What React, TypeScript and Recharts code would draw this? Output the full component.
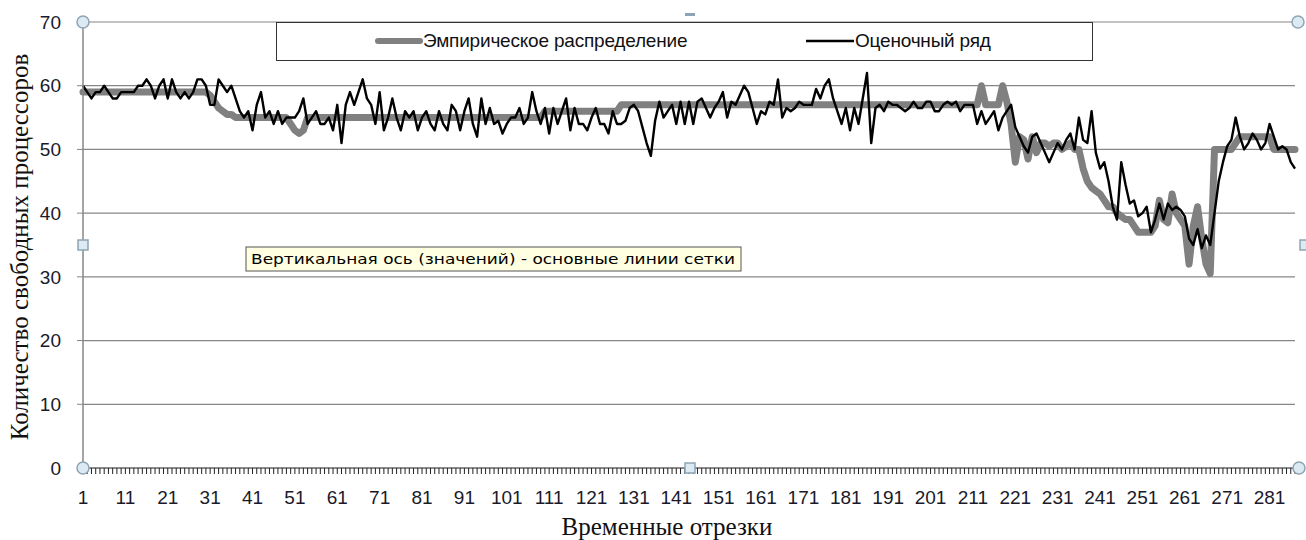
import React from 'react';
import { LineChart, Line, XAxis, YAxis, CartesianGrid } from 'recharts';

const W = 1306;
const H = 540;
const PLOT_LEFT = 83;
const PLOT_TOP = 22;
const PLOT_RIGHT = 1295;
const PLOT_BOTTOM = 468;

const SERIES_EMP = 'Эмпирическое распределение';
const SERIES_EST = 'Оценочный ряд';
const X_TITLE = 'Временные отрезки';
const Y_TITLE = 'Количество свободных процессоров';
const HINT_TEXT = 'Вертикальная ось (значений)  - основные линии сетки';

const COLOR_EMP = '#808080';
const COLOR_EST = '#000000';

const yTicks = [0, 10, 20, 30, 40, 50, 60, 70];
const xTickLabels = ['1', '11', '21', '31', '41', '51', '61', '71', '81', '91', '101', '111', '121', '131', '141', '151', '161', '171', '181', '191', '201', '211', '221', '231', '241', '251', '261', '271', '281'];

// Эмпирическое распределение (gray thick line), periods 1..287
const empirical = [
  59, 59, 59, 59, 59, 59, 59, 59, 59, 59,
  59, 59, 59, 59, 59, 59, 59, 59, 59, 59,
  59, 59, 59, 59, 59, 59, 59, 59, 59, 59,
  58.5, 57.5, 56.5, 56, 55.5, 55.5, 55, 55, 55, 55,
  55, 55, 55, 55, 55, 55, 55, 55, 55, 54,
  53, 52.5, 53, 55, 55, 55, 55, 55, 55, 55,
  55, 55, 55, 55, 55, 55, 55, 55, 55, 55,
  55, 55, 55, 55, 55, 55, 55, 55, 55, 55,
  55, 55, 55, 55, 55, 55, 55, 55, 55, 55,
  55, 55, 55, 55, 55, 55, 55, 55, 55, 55,
  55, 55, 55, 55, 55, 55, 55, 55, 55, 56,
  56, 56, 56, 56, 56, 56, 56, 56, 56, 56,
  56, 56, 56, 56, 56, 56, 56, 57, 57, 57,
  57, 57, 57, 57, 57, 57, 57, 57, 57, 57,
  57, 57, 57, 57, 57, 57, 57, 57, 57, 57,
  57, 57, 57, 57, 57, 57, 57, 57, 57, 57,
  57, 57, 57, 57, 57, 57, 57, 57, 57, 57,
  57, 57, 57, 57, 57, 57, 57, 57, 57, 57,
  57, 57, 57, 57, 57, 57, 57, 57, 57, 57,
  57, 57, 57, 57, 57, 57, 57, 57, 57, 57,
  57, 57, 57, 57, 57, 57, 57, 57, 57, 57,
  57, 57, 60, 57, 57, 57, 57, 60, 57.5, 54,
  48, 52, 51.5, 48.5, 52, 49.5, 51, 51, 50.5, 51,
  51, 50, 50.5, 51, 50, 50, 47, 45, 44, 43.5,
  43, 42, 41, 41, 40, 39.5, 39, 39, 38, 37,
  37, 37, 37, 38, 42, 39, 38.5, 43, 40, 39,
  38, 32, 38, 41, 36, 32, 30.5, 50, 50, 50,
  50, 50, 51, 52, 52, 52, 52, 52, 52, 52,
  52, 50, 50, 50, 50, 50, 50,
];

// Оценочный ряд (black thin line), periods 1..287
const estimated = [
  60, 59, 58, 59, 59, 60, 59, 58, 58, 59,
  59, 59, 59, 60, 60, 61, 60, 58, 60, 61,
  58, 61, 59, 58, 59, 58, 59, 61, 61, 60,
  57, 57, 61, 60, 59, 60, 58, 56, 55, 56,
  53, 57, 59, 55, 56, 54, 56, 54, 55, 55,
  55, 56, 58, 54, 55, 56, 54, 54, 55, 53,
  57, 51, 57, 59, 57, 59, 61, 58, 57, 54,
  59, 53, 55, 58, 55, 53, 56, 55, 56, 53,
  55, 56, 54, 53, 56, 54, 53, 57, 56, 53,
  56, 58, 54, 52, 58, 54, 56.5, 54, 54.5, 52.5,
  54, 55, 55, 56.5, 54, 55, 59, 56, 54, 56.5,
  52.5, 56.5, 54, 56, 58, 53, 56.5, 54, 54, 53,
  55, 56.5, 54, 54, 52.5, 56, 54, 54, 54.5, 56.5,
  57, 56, 53.5, 51, 49, 54.5, 57.5, 55, 56, 57,
  54, 57.5, 54, 57.5, 54, 57.5, 58, 56.5, 55, 56.5,
  57.5, 59, 55, 57.5, 57, 58.5, 60, 59, 56.5, 54,
  56, 55.5, 57.5, 57, 61, 55, 56.5, 56, 56.5, 57.5,
  57, 57, 57, 59.5, 58, 60, 61, 58, 56, 54,
  56.5, 53, 56.5, 54, 58, 62, 51, 56.5, 57, 56,
  57.5, 57, 57, 56.5, 56, 56.5, 57.5, 56.5, 56.5, 57.5,
  57.5, 56, 56, 57, 57.5, 57, 57.5, 56, 57, 57,
  57, 54, 56, 54, 55, 56, 53, 55, 56, 57,
  53.5, 52, 50.5, 49.5, 52, 52.5, 51, 49.5, 48, 49.5,
  51, 50, 51.5, 52.5, 50, 55, 51.5, 51, 56, 49.5,
  47, 48, 45, 41, 39, 48, 44.5, 41.5, 42, 39.5,
  40, 41, 37, 39, 41.5, 39, 41.5, 40.5, 41, 40.5,
  39.5, 36, 35, 37.5, 34.5, 36.5, 35, 40, 45, 48,
  50.5, 51.5, 55, 52, 50, 51, 52.5, 51.5, 50, 51,
  54, 52, 50, 50.5, 50, 48, 47,
];

const periods = empirical.map((_, i) => i + 1);

const data = periods.map((p, i) => ({ t: p, emp: empirical[i], est: estimated[i] }));

const TICK_FONT = '"Liberation Sans", Arial, sans-serif';
const SERIF = '"Liberation Serif", "Times New Roman", serif';
const TICK_SIZE = 19;
const TEXT_COLOR = '#1a1a2a';

const XTick = (props: any) => {
  const { x, y, payload } = props;
  if (!xTickLabels.includes(String(payload.value))) return <g />;
  return (
    <text x={x} y={y} dy={30} textAnchor="middle" fontFamily={TICK_FONT} fontSize={TICK_SIZE} fill={TEXT_COLOR}>
      {payload.value}
    </text>
  );
};

const LegendBox = () => (
  <div
    style={{
      position: 'absolute',
      left: 276,
      top: 22,
      boxSizing: 'border-box',
      width: 817,
      height: 39,
      border: '1.5px solid #333',
      background: '#fff',
      fontFamily: TICK_FONT,
      fontSize: 19,
      color: '#111',
    }}
  >
    <div style={{ position: 'absolute', left: 96, top: 7, display: 'flex', alignItems: 'center', height: 22 }}>
      <svg width={50} height={20}>
        <line x1={5} y1={10} x2={47} y2={10} stroke={COLOR_EMP} strokeWidth={6} strokeLinecap="round" />
      </svg>
      <span style={{ letterSpacing: -0.2 }}>{SERIES_EMP}</span>
    </div>
    <div style={{ position: 'absolute', left: 528, top: 7, display: 'flex', alignItems: 'center', height: 22 }}>
      <svg width={50} height={20}>
        <line x1={1} y1={10} x2={49} y2={10} stroke={COLOR_EST} strokeWidth={2.5} />
      </svg>
      <span style={{ letterSpacing: -0.2 }}>{SERIES_EST}</span>
    </div>
  </div>
);

const handleFill = '#dcebf3';
const handleStroke = '#8ea4b4';

export default function App() {
  const midX = (PLOT_LEFT + PLOT_RIGHT) / 2;
  const midY = (PLOT_TOP + PLOT_BOTTOM) / 2;
  return (
    <div style={{ position: 'absolute', left: 0, top: 0, width: W, height: H, background: '#fff', overflow: 'hidden' }}>
      <LineChart
        width={W}
        height={H}
        data={data}
        margin={{ top: PLOT_TOP, right: W - PLOT_RIGHT, bottom: H - PLOT_BOTTOM - 45, left: 0 }}
      >
        <CartesianGrid horizontal vertical={false} stroke="#878787" strokeWidth={1.2} />
        <XAxis
          dataKey="t"
          interval={0}
          height={45}
          tick={<XTick />}
          tickSize={6}
          tickMargin={0}
          axisLine={{ stroke: '#7a7a7a', strokeWidth: 1.5 }}
          tickLine={{ stroke: '#222', strokeWidth: 1 }}
        />
        <YAxis
          domain={[0, 70]}
          ticks={yTicks}
          width={PLOT_LEFT}
          tickSize={6}
          tickMargin={16}
          axisLine={{ stroke: '#878787', strokeWidth: 1.5 }}
          tickLine={{ stroke: '#878787' }}
          tick={{ fontFamily: TICK_FONT, fontSize: TICK_SIZE, fill: TEXT_COLOR }}
        />
        <Line
          type="linear"
          dataKey="emp"
          name={SERIES_EMP}
          stroke={COLOR_EMP}
          strokeWidth={7}
          strokeLinejoin="round"
          strokeLinecap="round"
          dot={false}
          activeDot={false}
          isAnimationActive={false}
        />
        <Line
          type="linear"
          dataKey="est"
          name={SERIES_EST}
          stroke={COLOR_EST}
          strokeWidth={2.4}
          strokeLinejoin="round"
          dot={false}
          activeDot={false}
          isAnimationActive={false}
        />
      </LineChart>
      <LegendBox />
      <svg
        width={W}
        height={H}
        style={{ position: 'absolute', left: 0, top: 0, pointerEvents: 'none' }}
      >
        <text
          x={19}
          y={midY + 2}
          transform={`rotate(-90 19 ${midY + 2})`}
          textAnchor="middle"
          dominantBaseline="central"
          fontFamily={SERIF}
          fontSize={25}
          fill="#111"
        >
          {Y_TITLE}
        </text>
        <text x={667} y={526} textAnchor="middle" dominantBaseline="central" fontFamily={SERIF} fontSize={25} fill="#111">
          {X_TITLE}
        </text>
        <rect x={246} y={247} width={495} height={24} fill="#ffffe1" stroke="#555" strokeWidth={1} />
        <text x={251} y={259} dominantBaseline="central" fontFamily='"DejaVu Sans", Tahoma, sans-serif' fontSize={14} fill="#000" textLength={484} lengthAdjust="spacingAndGlyphs">
          {HINT_TEXT}
        </text>
        <circle cx={PLOT_LEFT} cy={PLOT_TOP} r={6} fill={handleFill} stroke={handleStroke} strokeWidth={1.5} />
        <circle cx={PLOT_LEFT} cy={PLOT_BOTTOM} r={6} fill={handleFill} stroke={handleStroke} strokeWidth={1.5} />
        <circle cx={PLOT_RIGHT + 3} cy={PLOT_TOP} r={6} fill={handleFill} stroke={handleStroke} strokeWidth={1.5} />
        <circle cx={PLOT_RIGHT + 4} cy={PLOT_BOTTOM} r={6} fill={handleFill} stroke={handleStroke} strokeWidth={1.5} />
        <rect x={PLOT_LEFT - 5} y={midY - 5} width={10} height={10} fill={handleFill} stroke={handleStroke} strokeWidth={1.5} />
        <rect x={W - 6} y={midY - 5} width={10} height={10} fill={handleFill} stroke={handleStroke} strokeWidth={1.5} />
        <rect x={midX + 1 - 5} y={PLOT_BOTTOM - 5} width={10} height={10} fill={handleFill} stroke={handleStroke} strokeWidth={1.5} />
        <rect x={midX - 4} y={13} width={10} height={3} fill={handleStroke} />
      </svg>
    </div>
  );
}
